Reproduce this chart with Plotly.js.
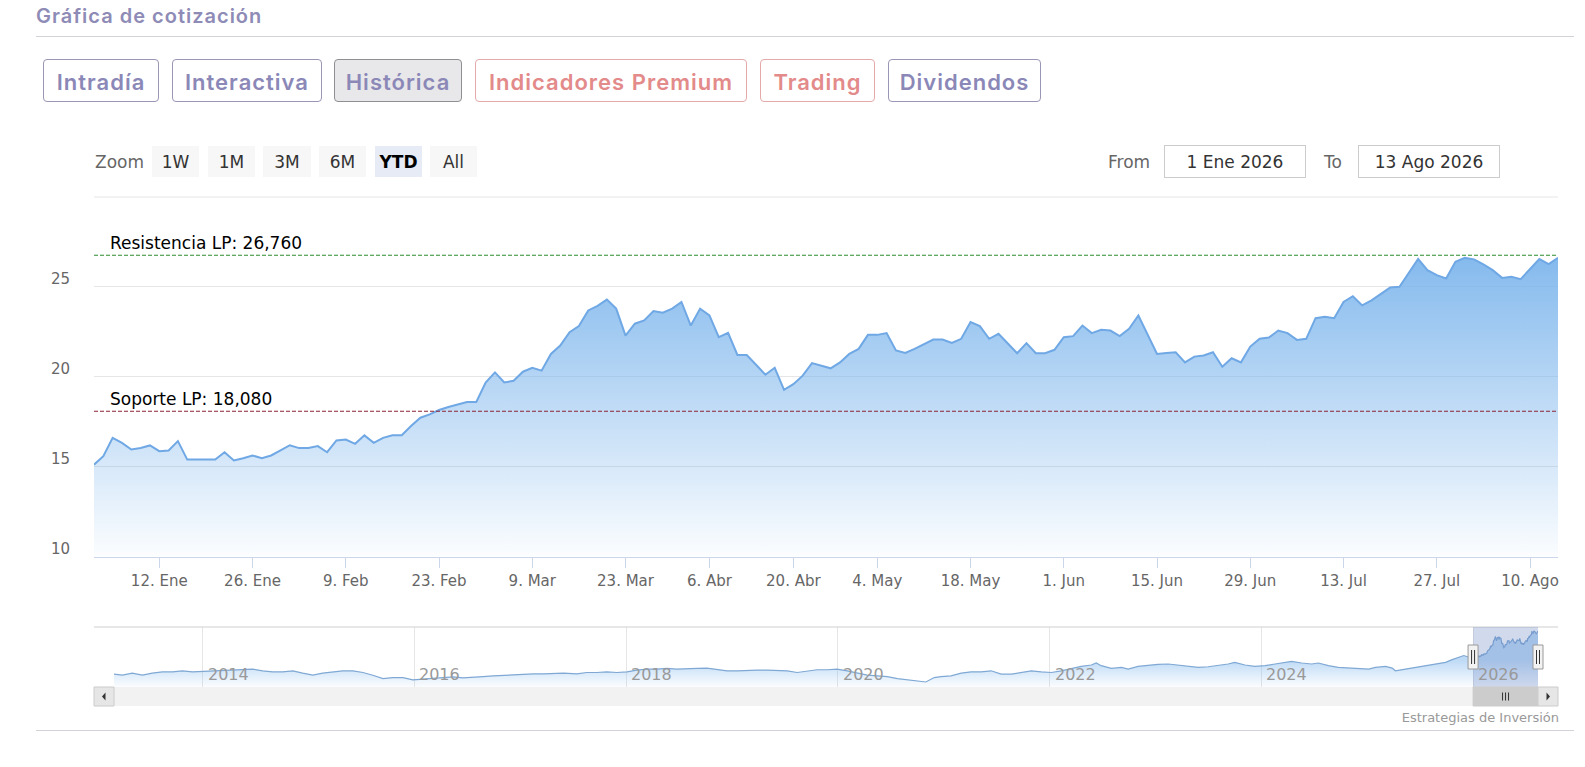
<!DOCTYPE html>
<html>
<head>
<meta charset="utf-8">
<script src="https://cdn.plot.ly/plotly-3.0.1.min.js"></script>
<style>
html,body{margin:0;padding:0;background:#fff;width:1585px;height:767px;overflow:hidden;}
#chart{position:absolute;left:0;top:0;width:1585px;height:767px;z-index:0;}
.ui{position:absolute;z-index:2;white-space:nowrap;}
.title{left:36px;top:4px;font:600 20px Inter, "Open Sans", sans-serif;color:#8e8bb6;letter-spacing:1px;}
.hr{position:absolute;left:36px;width:1538px;height:1px;background:#d2d2d8;z-index:2;}
.tab{position:absolute;top:59px;height:43px;box-sizing:border-box;border:1px solid #9a97b6;border-radius:4px;
  font:600 22px Inter, "Open Sans", sans-serif;color:#8b88b8;display:flex;align-items:center;justify-content:center;
  letter-spacing:1px;z-index:2;padding-top:2px;}
.tab.sel{background:#e8e8ea;border-color:#8f8f93;}
.tab.red{color:#e38a8a;border-color:#e4a9a9;}
.rs{position:absolute;top:146px;height:31px;font:17px "DejaVu Sans", sans-serif;color:#333;background:#f7f7f7;
  display:flex;align-items:center;justify-content:center;z-index:2;}
.rs.on{background:#e6ebf5;font-weight:bold;color:#000;}
.lbl{position:absolute;top:146px;height:31px;font:17px "DejaVu Sans", sans-serif;color:#666;z-index:2;
  display:flex;align-items:center;}
.inp{position:absolute;top:145px;height:33px;box-sizing:border-box;border:1px solid #cccccc;font:17px "DejaVu Sans", sans-serif;color:#333;
  display:flex;align-items:center;justify-content:center;z-index:2;background:#fff;}
.credit{position:absolute;right:26px;top:710px;font:13px "DejaVu Sans", sans-serif;color:#999;z-index:2;}
</style>
</head>
<body>
<div class="ui title">Gráfica de cotización</div>
<div class="hr" style="top:36px"></div>

<div class="tab" style="left:43px;width:116px">Intradía</div>
<div class="tab" style="left:172px;width:150px">Interactiva</div>
<div class="tab sel" style="left:334px;width:128px">Histórica</div>
<div class="tab red" style="left:475px;width:272px">Indicadores Premium</div>
<div class="tab red" style="left:760px;width:115px">Trading</div>
<div class="tab" style="left:888px;width:153px">Dividendos</div>

<div class="lbl" style="left:95px">Zoom</div>
<div class="rs" style="left:152px;width:47px">1W</div>
<div class="rs" style="left:208px;width:47px">1M</div>
<div class="rs" style="left:263px;width:48px">3M</div>
<div class="rs" style="left:319px;width:47px">6M</div>
<div class="rs on" style="left:375px;width:47px">YTD</div>
<div class="rs" style="left:430px;width:47px">All</div>

<div class="lbl" style="left:1108px">From</div>
<div class="inp" style="left:1164px;width:142px">1 Ene 2026</div>
<div class="lbl" style="left:1324px">To</div>
<div class="inp" style="left:1358px;width:142px">13 Ago 2026</div>

<div id="chart"></div>
<div class="credit">Estrategias de Inversión</div>
<div class="hr" style="top:730px"></div>

<script>
// ---------------- DATA ----------------
const startDate = '2026-01-01';
const endDate = '2026-08-13';
const holidays = ['2026-04-03', '2026-04-06', '2026-05-01'];

const closeValues = [
  15.11, 15.58, 16.60, 16.32, 15.95, 16.04, 16.18, 15.86, 15.90, 16.42,
  15.39, 15.39, 15.41, 15.39, 15.80, 15.34, 15.47, 15.62, 15.47, 15.62,
  15.91, 16.19, 16.03, 16.04, 16.14, 15.80, 16.46, 16.51, 16.27, 16.74,
  16.32, 16.60, 16.75, 16.75, 17.26, 17.72, 17.91, 18.15, 18.32, 18.47,
  18.60, 18.60, 19.68, 20.24, 19.68, 19.78, 20.28, 20.50, 20.34,
  21.27, 21.74, 22.48, 22.82, 23.69, 23.94, 24.29, 23.79, 22.29, 22.95,
  23.13, 23.66, 23.56, 23.79, 24.16, 22.85, 23.79, 23.41, 22.20, 22.44,
  21.21, 21.21, 20.67, 20.11, 20.50, 19.27, 19.59, 20.06, 20.76, 20.62,
  20.47, 20.80, 21.27, 21.55, 22.33, 22.33, 22.43, 21.46, 21.32, 21.55,
  21.83, 22.07, 22.07, 21.88, 22.11, 23.04, 22.82, 22.11, 22.39, 21.83,
  21.31, 21.87, 21.31, 21.31, 21.50,
  22.20, 22.26, 22.85, 22.43, 22.61, 22.57, 22.26, 22.67, 23.41, 22.33,
  21.27, 21.32, 21.36, 20.80, 21.12, 21.18, 21.36, 20.56, 21.03, 20.80,
  21.68, 22.11, 22.18, 22.57, 22.43, 22.05, 22.11, 23.26, 23.34, 23.26,
  24.16, 24.48, 23.97, 24.25, 24.61, 24.96, 25.00, 25.75, 26.55, 25.93,
  25.65, 25.47, 26.40, 26.62, 26.53, 26.25, 25.93, 25.50, 25.56, 25.43,
  25.97, 26.55, 26.27, 26.62
];

const resistanceLP = 26.76;
const supportLP = 18.08;

const tickDates = ['2026-01-12','2026-01-26','2026-02-09','2026-02-23','2026-03-09','2026-03-23',
  '2026-04-06','2026-04-20','2026-05-04','2026-05-18','2026-06-01','2026-06-15','2026-06-29',
  '2026-07-13','2026-07-27','2026-08-10'];
const tickLabels = ['12. Ene','26. Ene','9. Feb','23. Feb','9. Mar','23. Mar','6. Abr','20. Abr',
  '4. May','18. May','1. Jun','15. Jun','29. Jun','13. Jul','27. Jul','10. Ago'];

const yTickVals = [10, 15, 20, 25];
const yTickText = ['10', '15', '20', '25'];
const yRange = [10, 30];

const navHistDates = [
  '2013-03-01','2013-03-30','2013-05-03','2013-06-07','2013-07-11','2013-08-15','2013-09-19','2013-10-23','2013-11-27',
  '2014-01-01','2014-02-04','2014-03-11','2014-04-14','2014-05-19','2014-06-22','2014-07-27','2014-08-30','2014-10-04','2014-11-08','2014-12-12',
  '2015-01-16','2015-02-19','2015-03-26','2015-04-29','2015-06-03','2015-07-08','2015-08-11','2015-09-15','2015-10-19','2015-11-23','2015-12-27',
  '2016-01-31','2016-03-06','2016-04-09','2016-05-14','2016-06-17','2016-07-22','2016-08-25','2016-09-29','2016-11-03','2016-12-07',
  '2017-01-12','2017-02-15','2017-03-22','2017-04-25','2017-05-30','2017-07-15','2017-08-18','2017-09-22','2017-10-26','2017-11-30',
  '2018-01-04','2018-02-07','2018-03-14','2018-04-17','2018-05-22','2018-06-25','2018-07-30','2018-09-03','2018-10-07','2018-11-11','2018-12-15',
  '2019-01-19','2019-02-22','2019-03-29','2019-05-03','2019-06-06','2019-07-11','2019-08-14','2019-09-18','2019-10-22','2019-11-26','2019-12-30',
  '2020-02-03','2020-03-09','2020-04-12','2020-05-17','2020-06-20','2020-07-25','2020-08-28','2020-10-02','2020-10-31','2020-11-29','2020-12-22',
  '2021-01-26','2021-03-02','2021-04-05','2021-05-10','2021-06-13','2021-07-18','2021-08-22','2021-09-25','2021-10-30','2021-12-03',
  '2022-01-07','2022-02-10','2022-03-17','2022-04-20','2022-05-25','2022-06-11','2022-06-28','2022-08-02','2022-09-06','2022-09-29','2022-11-02','2022-12-07',
  '2023-01-10','2023-02-14','2023-03-20','2023-04-24','2023-05-29','2023-07-02','2023-08-06','2023-09-09','2023-10-02','2023-11-06','2023-12-10',
  '2024-01-14','2024-02-18','2024-03-23','2024-04-15','2024-05-20','2024-06-23','2024-07-16','2024-08-20','2024-09-23','2024-10-28','2024-12-02',
  '2025-01-06','2025-01-29','2025-03-05','2025-03-28','2025-04-08','2025-05-13','2025-06-16','2025-07-21','2025-08-25','2025-09-28','2025-10-21','2025-11-13','2025-11-30','2025-12-18'
];
const navHistValues = [
  7.64, 7.19, 8.09, 7.19, 8.09, 8.68, 8.68, 9.13, 8.68,
  8.83, 9.13, 9.43, 9.58, 9.43, 9.88, 9.13, 8.68, 8.68, 9.13, 8.09,
  7.19, 8.09, 8.68, 9.13, 9.13, 8.38, 7.19, 5.70, 6.14, 6.14, 5.10,
  5.40, 5.70, 6.14, 6.44, 5.99, 6.14, 6.59, 6.89, 7.19, 7.19,
  7.49, 7.79, 7.79, 8.09, 8.09, 7.79, 8.38, 8.38, 8.68, 8.38,
  8.68, 9.43, 9.88, 9.88, 10.17, 9.88, 10.17, 10.17, 10.32, 9.58, 9.13,
  9.13, 9.43, 9.43, 9.43, 9.28, 9.13, 8.38, 8.83, 9.58, 9.58, 9.88,
  9.13, 8.09, 7.19, 6.89, 6.59, 5.70, 5.10, 4.65, 4.20, 6.14, 6.59,
  6.89, 8.09, 8.68, 8.68, 9.13, 7.64, 7.64, 8.38, 9.13, 8.68,
  8.38, 9.13, 10.17, 11.07, 11.67, 12.56, 11.37, 10.17, 10.62, 9.88, 11.07, 11.67,
  11.97, 12.11, 11.67, 11.37, 10.62, 10.92, 11.37, 12.11, 12.86, 11.67, 11.07,
  11.37, 12.11, 12.86, 13.31, 12.56, 12.11, 12.56, 11.37, 10.62, 10.32, 10.17,
  9.88, 10.62, 11.07, 10.32, 9.13, 9.88, 10.62, 11.37, 12.11, 12.86, 14.06, 15.10, 15.85, 15.10
];
const navYearTicks = ['2014-01-01','2016-01-01','2018-01-01','2020-01-01','2022-01-01','2024-01-01','2026-01-01'];
const navYearLabels = ['2014','2016','2018','2020','2022','2024','2026'];
const navYRange = [2, 28.4];

// ---------------- HELPERS ----------------
function tradingDays(start, end, hol) {
  const out = [];
  const d = new Date(start + 'T00:00:00Z');
  const e = new Date(end + 'T00:00:00Z');
  while (d <= e) {
    const wd = d.getUTCDay();
    const s = d.toISOString().slice(0, 10);
    if (wd !== 0 && wd !== 6 && hol.indexOf(s) < 0) out.push(s);
    d.setUTCDate(d.getUTCDate() + 1);
  }
  return out;
}
const dates = tradingDays(startDate, endDate, holidays);
const n = Math.min(dates.length, closeValues.length);
const mainX = dates.slice(0, n);
const mainY = closeValues.slice(0, n);
// ordinal axis: a tick on a non-trading day snaps to the next trading day
const tickPos = tickDates.map(t => mainX.find(d => d >= t) || t);

const W = 1585, H = 767;
const fx = p => p / W;
const fy = p => 1 - p / H;
const L = {plotL: 94, plotR: 1558, plotT: 197, plotB: 556.5,
           navL: 114, navR: 1538, navT: 627, navB: 687, sbT: 687, sbB: 706};

const navX = navHistDates.concat(mainX);
const navY = navHistValues.concat(mainY);
const navRange = [navHistDates[0], mainX[mainX.length - 1]];
const selStart = mainX[0], selEnd = mainX[mainX.length - 1];

function navPx(dstr) {
  const t0 = Date.parse(navRange[0]), t1 = Date.parse(navRange[1]);
  return L.navL + (Date.parse(dstr) - t0) / (t1 - t0) * (L.navR - L.navL);
}
const fmtES = v => v.toFixed(3).replace('.', ',');

// ---------------- TRACES ----------------
const mainTrace = {
  x: mainX, y: mainY, xaxis: 'x', yaxis: 'y', type: 'scatter', mode: 'lines',
  line: {color: '#6fa8e4', width: 2},
  fill: 'tozeroy',
  fillgradient: {type: 'vertical', start: 10, stop: 27.5,
    colorscale: [[0, 'rgba(124,181,236,0.03)'], [1, 'rgba(124,181,236,0.98)']]},
  hoverinfo: 'skip'
};
const navTrace = {
  x: navX, y: navY, xaxis: 'x2', yaxis: 'y2', type: 'scatter', mode: 'lines',
  line: {color: '#7fa8d4', width: 1.2},
  fill: 'tozeroy',
  fillgradient: {type: 'vertical', start: 2, stop: 14,
    colorscale: [[0, 'rgba(124,181,236,0.03)'], [1, 'rgba(124,181,236,0.5)']]},
  hoverinfo: 'skip'
};

// ---------------- SHAPES ----------------
const shapes = [
  // top gridline of the price panel
  {type: 'line', xref: 'x domain', yref: 'y domain', x0: 0, x1: 1, y0: 1, y1: 1,
   line: {color: '#e6e6e6', width: 1}, layer: 'below'},
  {type: 'line', xref: 'x domain', yref: 'y', x0: 0, x1: 1, y0: resistanceLP, y1: resistanceLP,
   line: {color: '#2f8a2f', width: 1.2, dash: '4px,2px'}},
  {type: 'line', xref: 'x domain', yref: 'y', x0: 0, x1: 1, y0: supportLP, y1: supportLP,
   line: {color: '#8b2535', width: 1.2, dash: '4px,2px'}},
  // navigator outline (top)
  {type: 'line', xref: 'paper', yref: 'paper', x0: fx(L.plotL), x1: fx(L.plotR), y0: fy(L.navT), y1: fy(L.navT),
   line: {color: '#cfcfcf', width: 1}},
  // selection mask
  {type: 'rect', xref: 'x2', yref: 'paper', x0: selStart, x1: selEnd, y0: fy(L.navB), y1: fy(L.navT),
   fillcolor: 'rgba(102,133,194,0.3)', line: {width: 0}, layer: 'above'},
  // scrollbar track
  {type: 'rect', xref: 'paper', yref: 'paper', x0: fx(L.plotL), x1: fx(L.plotR), y0: fy(L.sbB), y1: fy(L.sbT),
   fillcolor: '#f2f2f2', line: {width: 0}},
  // scrollbar thumb
  {type: 'rect', xref: 'x2', yref: 'paper', x0: selStart, x1: selEnd, y0: fy(L.sbB), y1: fy(L.sbT),
   fillcolor: '#cccccc', line: {color: '#cccccc', width: 1}},
  // left button
  {type: 'rect', xref: 'paper', yref: 'paper', x0: fx(L.plotL), x1: fx(L.navL), y0: fy(L.sbB), y1: fy(L.sbT),
   fillcolor: '#e6e6e6', line: {color: '#cccccc', width: 1}},
  // right button
  {type: 'rect', xref: 'paper', yref: 'paper', x0: fx(L.navR), x1: fx(L.plotR), y0: fy(L.sbB), y1: fy(L.sbT),
   fillcolor: '#e6e6e6', line: {color: '#cccccc', width: 1}}
];
const sbMid = (L.sbT + L.sbB) / 2;
const lbx = (L.plotL + L.navL) / 2, rbx = (L.navR + L.plotR) / 2;
shapes.push({type: 'path', xref: 'paper', yref: 'paper', fillcolor: '#333', line: {width: 0},
  path: `M ${fx(lbx - 2)} ${fy(sbMid)} L ${fx(lbx + 1.5)} ${fy(sbMid - 4)} L ${fx(lbx + 1.5)} ${fy(sbMid + 4)} Z`});
shapes.push({type: 'path', xref: 'paper', yref: 'paper', fillcolor: '#333', line: {width: 0},
  path: `M ${fx(rbx + 2)} ${fy(sbMid)} L ${fx(rbx - 1.5)} ${fy(sbMid - 4)} L ${fx(rbx - 1.5)} ${fy(sbMid + 4)} Z`});
const thumbC = (navPx(selStart) + navPx(selEnd)) / 2;
[-3, 0, 3].forEach(o => shapes.push({type: 'line', xref: 'paper', yref: 'paper',
  x0: fx(thumbC + o), x1: fx(thumbC + o), y0: fy(sbMid - 4), y1: fy(sbMid + 4), line: {color: '#333', width: 1}}));
const navMid = (L.navT + L.navB) / 2;
[selStart, selEnd].forEach(d => {
  const c = navPx(d);
  shapes.push({type: 'rect', xref: 'paper', yref: 'paper', x0: fx(c - 5), x1: fx(c + 5), y0: fy(navMid + 12), y1: fy(navMid - 12),
    fillcolor: '#f2f2f2', line: {color: '#999999', width: 1}, layer: 'above'});
  [-1.5, 1.5].forEach(o => shapes.push({type: 'line', xref: 'paper', yref: 'paper',
    x0: fx(c + o), x1: fx(c + o), y0: fy(navMid - 7), y1: fy(navMid + 7), line: {color: '#333', width: 1}, layer: 'above'}));
});

// ---------------- ANNOTATIONS ----------------
const annFont = {family: '"DejaVu Sans", Verdana, sans-serif', size: 17, color: '#000'};
const annotations = [
  {xref: 'paper', yref: 'y', x: fx(108), y: resistanceLP, xanchor: 'left', yanchor: 'bottom',
   text: 'Resistencia LP: ' + fmtES(resistanceLP), showarrow: false, font: annFont},
  {xref: 'paper', yref: 'y', x: fx(108), y: supportLP, xanchor: 'left', yanchor: 'bottom',
   text: 'Soporte LP: ' + fmtES(supportLP), showarrow: false, font: annFont}
];
navYearTicks.forEach((d, i) => annotations.push({
  xref: 'x2', yref: 'paper', x: d, y: fy(L.navB - 1), xanchor: 'left', yanchor: 'bottom', xshift: 3,
  text: navYearLabels[i], showarrow: false,
  font: {family: '"DejaVu Sans", Verdana, sans-serif', size: 16, color: '#999'}
}));

// ---------------- LAYOUT ----------------
const layout = {
  width: W, height: H, margin: {l: 0, r: 0, t: 0, b: 0},
  paper_bgcolor: 'rgba(0,0,0,0)', plot_bgcolor: 'rgba(0,0,0,0)',
  showlegend: false, hovermode: false,
  xaxis: {
    type: 'date', domain: [fx(L.plotL), fx(L.plotR)], anchor: 'y',
    range: [mainX[0], mainX[mainX.length - 1]],
    rangebreaks: [{bounds: ['sat', 'mon']}, {values: holidays}],
    tickmode: 'array', tickvals: tickPos, ticktext: tickLabels,
    ticks: 'outside', ticklen: 10, tickcolor: '#ccd6eb', tickwidth: 1,
    showline: true, linecolor: '#ccd6eb', linewidth: 1,
    showgrid: false, zeroline: false, fixedrange: true,
    tickfont: {family: '"DejaVu Sans", Verdana, sans-serif', size: 15, color: '#666'}
  },
  yaxis: {
    domain: [fy(L.plotB), fy(L.plotT)], anchor: 'x', range: yRange,
    tickmode: 'array', tickvals: yTickVals, ticktext: yTickText,
    showgrid: true, gridcolor: '#e6e6e6', gridwidth: 1, zeroline: false, showline: false,
    ticks: '', ticklabelstandoff: 23, ticklabelshift: -8, fixedrange: true,
    tickfont: {family: '"DejaVu Sans", Verdana, sans-serif', size: 15, color: '#666'}
  },
  xaxis2: {
    type: 'date', domain: [fx(L.navL), fx(L.navR)], anchor: 'y2', range: navRange,
    tickmode: 'array', tickvals: navYearTicks, showticklabels: false,
    showgrid: true, gridcolor: '#e6e6e6', zeroline: false, showline: false, ticks: '', fixedrange: true
  },
  yaxis2: {
    domain: [fy(L.navB), fy(L.navT)], anchor: 'x2', range: navYRange,
    showgrid: false, showticklabels: false, zeroline: false, showline: false, ticks: '', fixedrange: true
  },
  shapes: shapes,
  annotations: annotations
};

Plotly.newPlot('chart', [navTrace, mainTrace], layout, {displayModeBar: false, staticPlot: true});
</script>
</body>
</html>
